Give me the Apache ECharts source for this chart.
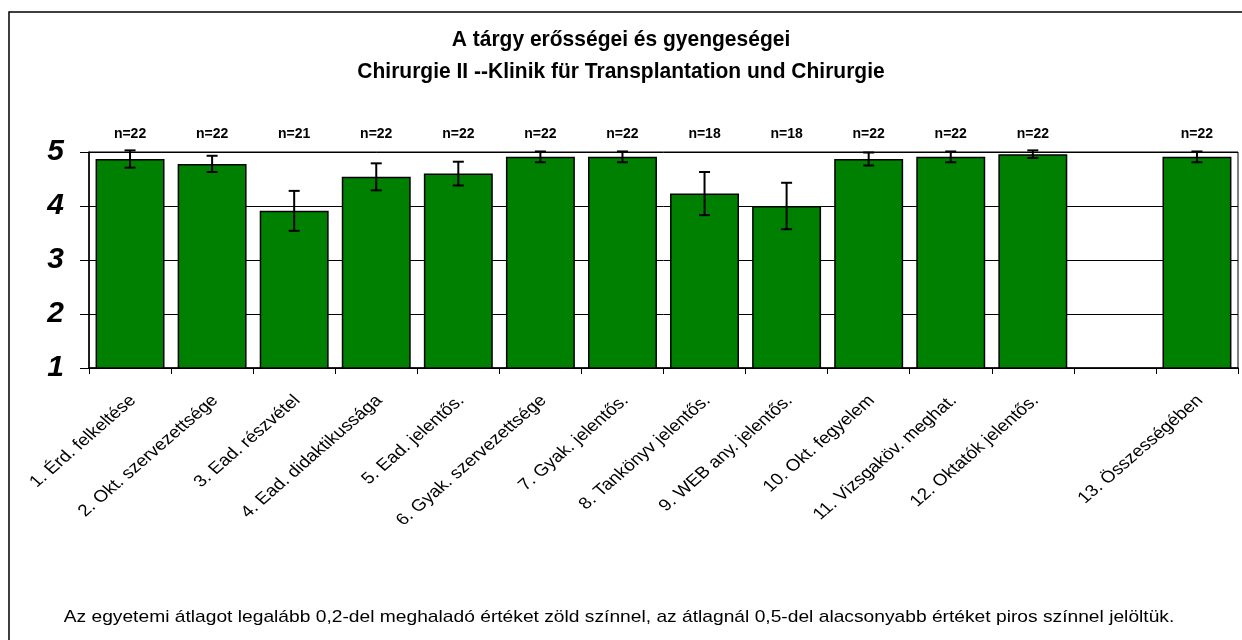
<!DOCTYPE html>
<html>
<head>
<meta charset="utf-8">
<script src="https://cdn.jsdelivr.net/npm/echarts@6/dist/echarts.min.js"></script>
<style>
html,body{margin:0;padding:0;background:#fff;}
#chart{width:1242px;height:640px;}
</style>
</head>
<body>
<div id="chart"></div>
<script>
const categories = ["1. Érd. felkeltése", "2. Okt. szervezettsége", "3. Ead. részvétel", "4. Ead. didaktikussága", "5. Ead. jelentős.", "6. Gyak. szervezettsége", "7. Gyak. jelentős.", "8. Tankönyv jelentős.", "9. WEB any. jelentős.", "10. Okt. fegyelem", "11. Vizsgaköv. meghat.", "12. Oktatók jelentős.", "", "13. Összességében"];
const means = [4.87, 4.78, 3.91, 4.54, 4.60, 4.91, 4.91, 4.23, 4.00, 4.87, 4.91, 4.96, null, 4.91];
const errors = [0.16, 0.15, 0.37, 0.25, 0.22, 0.10, 0.10, 0.40, 0.43, 0.12, 0.10, 0.07, null, 0.10];
const counts = [22, 22, 21, 22, 22, 22, 22, 18, 18, 22, 22, 22, null, 22];
const yTicks = [1, 2, 3, 4, 5];
const titleLines = ["A tárgy erősségei és gyengeségei", "Chirurgie II --Klinik für Transplantation und Chirurgie"];
const footnote = "Az egyetemi átlagot legalább 0,2-del meghaladó értéket zöld színnel, az átlagnál 0,5-del alacsonyabb értéket piros színnel jelöltük.";

const FONT = "'Liberation Sans', Arial, Helvetica, sans-serif";
const LABEL_STRETCH = 1.15;
const chart = echarts.init(document.getElementById('chart'), null, {renderer: 'canvas'});

const errData = means.map((m, i) => m == null ? [i, NaN, NaN] : [i, m - errors[i], m + errors[i]]);
const nData = counts.map((c, i) => [i, c == null ? NaN : c]);
const labelData = categories.map((c, i) => [i, 1]);

chart.setOption({
  animation: false,
  backgroundColor: '#ffffff',
  graphic: [
    {type: 'rect', shape: {x: 9, y: 12, width: 1260, height: 660}, style: {fill: 'none', stroke: '#000', lineWidth: 1.5}, silent: true},
    {type: 'text', x: 621, y: 40, scaleY: 1.08, style: {text: titleLines[0], font: 'bold 21px ' + FONT, fill: '#000', textAlign: 'center', textVerticalAlign: 'middle'}},
    {type: 'text', x: 621, y: 72, scaleY: 1.08, style: {text: titleLines[1], font: 'bold 21px ' + FONT, fill: '#000', textAlign: 'center', textVerticalAlign: 'middle'}},
    {type: 'text', x: 619, y: 617, scaleX: 1.13, style: {text: footnote, font: '17px ' + FONT, fill: '#000', textAlign: 'center', textVerticalAlign: 'middle'}}
  ],
  grid: {left: 89, right: 4, top: 152, bottom: 272, show: true, borderColor: '#000', borderWidth: 1, containLabel: false},
  xAxis: {
    type: 'category',
    data: categories,
    boundaryGap: true,
    axisLine: {lineStyle: {color: '#000', width: 1.5}},
    axisTick: {show: true, interval: 0, alignWithLabel: false, length: 6, lineStyle: {color: '#000', width: 1}},
    axisLabel: {show: false, interval: 0},
    splitLine: {show: false}
  },
  yAxis: {
    type: 'value',
    min: 1, max: 5, interval: 1,
    axisLine: {show: true, lineStyle: {color: '#000', width: 1.5}},
    axisTick: {show: true, length: 9, lineStyle: {color: '#000', width: 1}},
    axisLabel: {margin: 25, fontFamily: FONT, fontSize: 30, fontWeight: 'bold', fontStyle: 'italic', color: '#000',
      formatter: v => yTicks.includes(v) ? String(v) : ''},
    splitLine: {show: true, lineStyle: {color: '#000', width: 1}}
  },
  series: [
    {
      type: 'bar',
      data: means,
      barCategoryGap: '16%',
      itemStyle: {color: '#008000', borderColor: '#000', borderWidth: 1.5},
      z: 2
    },
    {
      type: 'custom',
      data: errData,
      z: 5,
      clip: false,
      renderItem: function (params, api) {
        const i = api.value(0);
        if (isNaN(api.value(1))) return;
        const lo = api.coord([i, api.value(1)]);
        const hi = api.coord([i, api.value(2)]);
        const hw = 5.5;
        const st = {stroke: '#000', lineWidth: 2};
        return {type: 'group', children: [
          {type: 'line', shape: {x1: lo[0], y1: lo[1], x2: hi[0], y2: hi[1]}, style: st},
          {type: 'line', shape: {x1: lo[0] - hw, y1: lo[1], x2: lo[0] + hw, y2: lo[1]}, style: st},
          {type: 'line', shape: {x1: hi[0] - hw, y1: hi[1], x2: hi[0] + hw, y2: hi[1]}, style: st}
        ]};
      }
    },
    {
      type: 'custom',
      data: nData,
      z: 5,
      clip: false,
      renderItem: function (params, api) {
        const i = api.value(0);
        if (isNaN(api.value(1))) return;
        const p = api.coord([i, 5]);
        return {type: 'text', x: p[0], y: p[1] - 18, style: {text: 'n=' + api.value(1), textAlign: 'center', textVerticalAlign: 'middle', font: 'bold 14px ' + FONT, fill: '#000'}};
      }
    },
    {
      type: 'custom',
      data: labelData,
      z: 5,
      clip: false,
      silent: true,
      renderItem: function (params, api) {
        const i = api.value(0);
        const txt = categories[i];
        if (!txt) return;
        const p = api.coord([i, 1]);
        return {type: 'group', x: p[0] + 3, y: p[1] + 30, scaleX: LABEL_STRETCH, children: [
          {type: 'text', rotation: Math.PI / 4, style: {text: txt, textAlign: 'right', textVerticalAlign: 'middle', font: '16.5px ' + FONT, fill: '#000'}}
        ]};
      }
    }
  ]
});
</script>
</body>
</html>
